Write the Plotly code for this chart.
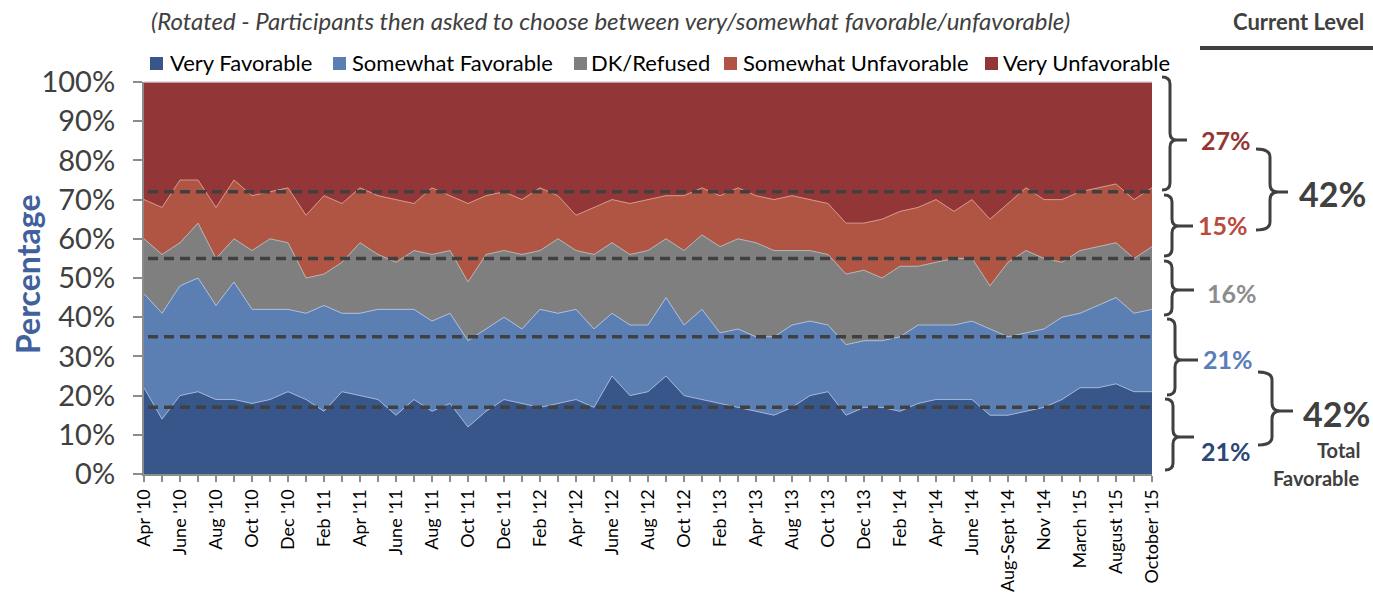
import plotly.graph_objects as go

# ---------------- data ----------------
categories = [
    "Apr '10", "May '10", "June '10", "July '10", "Aug '10", "Sept '10", "Oct '10", "Nov '10",
    "Dec '10", "Jan '11", "Feb '11", "Mar '11", "Apr '11", "May '11", "June '11", "July '11",
    "Aug '11", "Sept '11", "Oct '11", "Nov '11", "Dec '11", "Jan '12", "Feb '12", "Mar '12",
    "Apr '12", "May '12", "June '12", "July '12", "Aug '12", "Sept '12", "Oct '12", "Dec '12",
    "Feb '13", "Mar '13", "Apr '13", "June '13", "Aug '13", "Sept '13", "Oct '13", "Nov '13",
    "Dec '13", "Jan '14", "Feb '14", "Mar '14", "Apr '14", "May '14", "June '14", "July '14",
    "Aug-Sept '14", "Oct '14", "Nov '14", "Jan '15", "March '15", "June '15", "August '15",
    "Sept '15", "October '15",
]

very_favorable = [22, 14, 20, 21, 19, 19, 18, 19, 21, 19, 16, 21, 20, 19, 15,
                  19, 16, 18, 12, 16, 19, 18, 17, 18, 19, 17, 25, 20, 21,
                  25, 20, 19, 18, 17, 16, 15, 17, 20, 21, 15, 17, 17, 16,
                  18, 19, 19, 19, 15, 15, 16, 17, 19, 22, 22, 23, 21, 21]
somewhat_favorable = [24, 27, 28, 29, 24, 30, 24, 23, 21, 22, 27, 20, 21, 23, 27,
                      23, 23, 23, 22, 21, 21, 19, 25, 23, 23, 20, 16, 18, 17,
                      20, 18, 23, 18, 20, 19, 20, 21, 19, 17, 18, 17, 17, 19,
                      20, 19, 19, 20, 22, 20, 20, 20, 21, 19, 21, 22, 20, 21]
dk_refused = [14, 15, 11, 14, 12, 11, 15, 18, 17, 9, 8, 13, 18, 14, 12,
              15, 17, 16, 15, 19, 17, 19, 15, 19, 15, 19, 18, 18, 19,
              15, 19, 19, 22, 23, 24, 22, 19, 18, 18, 18, 18, 16, 18,
              15, 16, 17, 16, 11, 19, 21, 18, 14, 16, 15, 14, 14, 16]
somewhat_unfavorable = [10, 12, 16, 11, 13, 15, 14, 12, 14, 16, 20, 15, 14, 15, 16,
                        12, 17, 14, 20, 15, 15, 14, 16, 11, 9, 12, 11, 13, 13,
                        11, 14, 12, 13, 13, 12, 13, 14, 13, 13, 13, 12, 15, 14,
                        15, 16, 12, 15, 17, 15, 16, 15, 16, 15, 15, 15, 15, 15]
very_unfavorable = [30, 32, 25, 25, 32, 25, 29, 28, 27, 34, 29, 31, 27, 29, 30,
                    31, 27, 29, 31, 29, 28, 30, 27, 29, 34, 32, 30, 31, 30,
                    29, 29, 27, 29, 27, 29, 30, 29, 30, 31, 36, 36, 35, 33,
                    32, 30, 33, 30, 35, 31, 27, 30, 30, 28, 27, 26, 30, 27]

series_names = ["Very Favorable", "Somewhat Favorable", "DK/Refused",
                "Somewhat Unfavorable", "Very Unfavorable"]
series_values = [very_favorable, somewhat_favorable, dk_refused,
                 somewhat_unfavorable, very_unfavorable]

average_levels = [17, 35, 55, 72]
current_labels = ["27%", "15%", "16%", "21%", "21%"]
combined_labels = ["42%", "42%"]

# ---------------- style ----------------
fill_colors = ["#385689", "#5b7eb3", "#7f7f7f", "#b05544", "#933637"]
line_colors = ["#9fb3d8", "#a9bcdc", "#b2b2b2", "#d69486", "#c4c4c4"]
label_colors = ["#943634", "#b94a3c", "#8c8c8c", "#5a7eb8", "#2e4677"]
FONT = "Lato"
W, H = 1373, 596
L, R, T, B = 144, 221, 82, 122
PW, PH = W - L - R, H - T - B


def px(x):
    return (x - L) / PW


def py(y):
    return (H - B - y) / PH


fig = go.Figure()
for name, vals, fc, lc in zip(series_names, series_values, fill_colors, line_colors):
    fig.add_trace(go.Scatter(
        x=categories, y=vals, name=name, stackgroup="one", mode="lines",
        line=dict(width=1, color=lc), fillcolor=fc, hoverinfo="x+y+name",
    ))

ticktext = [c if i % 2 == 0 else "" for i, c in enumerate(categories)]

shapes = []
annotations = []

# average dashed lines
for lvl in average_levels:
    shapes.append(dict(type="line", xref="paper", yref="y", x0=0.004, x1=1.0,
                       y0=lvl, y1=lvl, layer="above",
                       line=dict(color="#404040", width=3.5, dash="10px,6px")))

# top border of plot
shapes.append(dict(type="line", xref="paper", yref="paper", x0=0, x1=1, y0=1, y1=1,
                   line=dict(color="#c4c4c4", width=1)))


def brace(xl, yt, yb, xt, ym, d=8, r=7):
    pts = [
        f"M {px(xl - d)} {py(yt)}",
        f"Q {px(xl)} {py(yt)} {px(xl)} {py(yt + r)}",
        f"L {px(xl)} {py(ym - r)}",
        f"Q {px(xl)} {py(ym)} {px(xl + r)} {py(ym)}",
        f"L {px(xt)} {py(ym)}",
        f"M {px(xl + r)} {py(ym)}",
        f"Q {px(xl)} {py(ym)} {px(xl)} {py(ym + r)}",
        f"L {px(xl)} {py(yb - r)}",
        f"Q {px(xl)} {py(yb)} {px(xl - d)} {py(yb)}",
    ]
    return dict(type="path", xref="paper", yref="paper", path=" ".join(pts),
                line=dict(color="#404040", width=3))


# first-column braces (pixel geometry)
brace_geo = [(1170, 77, 190, 1187, 140), (1172, 195, 256, 1193, 226),
             (1172, 261, 315, 1194, 290), (1175, 319, 395, 1198, 360),
             (1173, 399, 470, 1194, 437)]
for g in brace_geo:
    shapes.append(brace(*g))
# second-column braces
shapes.append(brace(1270, 149, 230, 1288, 192, d=14, r=8))
shapes.append(brace(1272, 372, 445, 1293, 411, d=14, r=8))

label_pos = [(1226, 140), (1223, 225), (1232, 293), (1228, 359), (1226, 451)]
for txt, (x, y), col in zip(current_labels, label_pos, label_colors):
    annotations.append(dict(text=f"<b>{txt}</b>", x=px(x), y=py(y), xref="paper", yref="paper",
                            showarrow=False, xanchor="center", yanchor="middle",
                            font=dict(family=FONT, size=25, color=col)))

for txt, (x, y) in zip(combined_labels, [(1332, 193), (1336, 413)]):
    annotations.append(dict(text=f"<b>{txt}</b>", x=px(x), y=py(y), xref="paper", yref="paper",
                            showarrow=False, xanchor="center", yanchor="middle",
                            font=dict(family=FONT, size=34, color="#404040")))
annotations.append(dict(text="<b>Total</b>", x=px(1338), y=py(450), xref="paper", yref="paper",
                        showarrow=False, xanchor="center", yanchor="middle",
                        font=dict(family=FONT, size=20, color="#404040")))
annotations.append(dict(text="<b>Favorable</b>", x=px(1316), y=py(478), xref="paper", yref="paper",
                        showarrow=False, xanchor="center", yanchor="middle",
                        font=dict(family=FONT, size=20, color="#404040")))

# header
annotations.append(dict(text="<b>Current Level</b>", x=px(1298), y=py(22), xref="paper", yref="paper",
                        showarrow=False, xanchor="center", yanchor="middle",
                        font=dict(family=FONT, size=22, color="#404040")))
shapes.append(dict(type="line", xref="paper", yref="paper", x0=px(1200), x1=px(1373),
                   y0=py(48), y1=py(48), line=dict(color="#404040", width=4)))

# subtitle
annotations.append(dict(
    text="<i>(Rotated - Participants then asked to choose between very/somewhat favorable/unfavorable)</i>",
    x=px(610), y=py(20), xref="paper", yref="paper", showarrow=False,
    xanchor="center", yanchor="middle", font=dict(family=FONT, size=24, color="#404040")))

# y-axis title
annotations.append(dict(text="<b>Percentage</b>", x=px(27), y=py(274), xref="paper", yref="paper",
                        showarrow=False, textangle=-90, xanchor="center", yanchor="middle",
                        font=dict(family=FONT, size=32, color="#41619c")))

# manual legend
legend_sq_x = [150, 333, 574, 724, 985]
legend_txt_x = [168, 350, 589, 741, 1001]
for name, col, sx, tx in zip(series_names, fill_colors, legend_sq_x, legend_txt_x):
    shapes.append(dict(type="rect", xref="paper", yref="paper",
                       x0=px(sx), x1=px(sx + 13), y0=py(57), y1=py(70),
                       fillcolor=col, line=dict(width=0)))
    annotations.append(dict(text=name, x=px(tx), y=py(63), xref="paper", yref="paper",
                            showarrow=False, xanchor="left", yanchor="middle",
                            font=dict(family=FONT, size=22, color="#000000")))

fig.update_layout(
    width=W, height=H, margin=dict(l=L, r=R, t=T, b=B, autoexpand=False),
    paper_bgcolor="white", plot_bgcolor="white", showlegend=False,
    shapes=shapes, annotations=annotations,
    font=dict(family=FONT),
    xaxis=dict(type="category", range=[0, len(categories) - 1], tickmode="array",
               tickvals=categories, ticktext=ticktext, tickangle=-90, automargin=False,
               ticks="outside", ticklen=6, tickwidth=1.5, tickcolor="#8c8c8c",
               showline=True, linecolor="#8c8c8c", linewidth=2, showgrid=False,
               tickfont=dict(family=FONT, size=18, color="#000000")),
    yaxis=dict(range=[0, 100], dtick=10, ticksuffix="%", ticks="outside", ticklen=9,
               automargin=False,
               tickwidth=1.5, tickcolor="#8c8c8c", showline=True, linecolor="#8c8c8c",
               linewidth=2, showgrid=False, zeroline=False, ticklabelstandoff=12,
               tickfont=dict(family=FONT, size=29, color="#404040")),
)

fig.write_html("out.html", config={"displayModeBar": False},
               post_script="document.body.style.margin='0';"
                           "document.body.style.overflow='hidden';")
